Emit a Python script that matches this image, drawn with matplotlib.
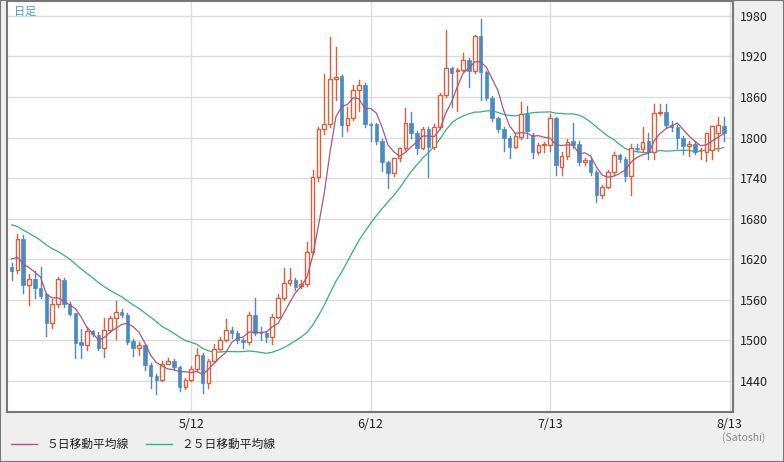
import matplotlib
matplotlib.use("Agg")
import matplotlib.pyplot as plt
import numpy as np
from matplotlib.lines import Line2D
from matplotlib.patches import Rectangle

plt.rcParams['font.family'] = ['Noto Sans CJK JP', 'DejaVu Sans']

# OHLC, 4/11 .. 8/13 (one candle per calendar day)
opens = [1608,1604,1650,1582,1591,1578,1569,1526,1554,1589,1554,1540,1498,1493,1514,1508,1489,1515,1533,1542,
         1538,1499,1489,1493,1464,1447,1442,1465,1470,1461,1431,1442,1458,1479,1437,1470,1487,1501,1515,1511,
         1501,1497,1538,1512,1511,1505,1535,1563,1585,1589,1580,1583,1631,1742,1813,1820,1887,1891,1819,1829,
         1870,1878,1820,1820,1795,1764,1748,1770,1785,1822,1806,1785,1813,1786,1816,1863,1903,1899,1900,1915,
         1899,1950,1897,1859,1829,1813,1800,1786,1801,1835,1804,1779,1789,1789,1829,1757,1773,1795,1791,1764,
         1767,1749,1715,1727,1749,1774,1768,1743,1785,1783,1795,1779,1836,1838,1819,1815,1800,1788,1791,1781,
         1779,1782,1806,1817,1819]
closes = [1603,1650,1582,1591,1578,1566,1525,1554,1591,1554,1539,1496,1493,1514,1510,1489,1515,1533,1542,1538,
          1498,1489,1493,1464,1447,1442,1465,1470,1460,1431,1442,1458,1479,1437,1470,1487,1501,1515,1511,1501,
          1497,1538,1511,1511,1505,1535,1563,1585,1589,1579,1583,1631,1742,1813,1820,1887,1890,1819,1829,1870,
          1878,1820,1818,1795,1764,1748,1770,1785,1822,1806,1785,1813,1786,1816,1863,1903,1896,1900,1915,1899,
          1950,1897,1859,1829,1813,1800,1786,1802,1835,1809,1779,1789,1790,1829,1760,1773,1794,1789,1764,1767,
          1749,1715,1727,1749,1774,1768,1743,1785,1783,1794,1779,1836,1838,1818,1815,1800,1788,1791,1779,1782,
          1806,1817,1818,1806]
highs = [1615,1657,1656,1598,1603,1608,1570,1561,1593,1592,1556,1541,1517,1520,1516,1512,1533,1536,1558,1546,
         1540,1502,1498,1495,1466,1450,1470,1474,1472,1462,1444,1462,1489,1481,1473,1495,1505,1532,1520,1514,
         1503,1542,1563,1520,1514,1539,1568,1607,1607,1592,1590,1646,1752,1815,1894,1949,1934,1893,1845,1878,
         1885,1880,1822,1822,1798,1766,1752,1774,1844,1838,1810,1816,1816,1820,1866,1959,1904,1903,1925,1918,
         1952,1976,1899,1862,1831,1816,1803,1806,1852,1847,1806,1792,1794,1835,1831,1778,1798,1822,1795,1770,
         1770,1752,1730,1752,1779,1776,1771,1790,1790,1815,1806,1850,1850,1850,1824,1818,1802,1795,1795,1784,
         1785,1811,1830,1830,1822]
lows = [1590,1600,1570,1552,1563,1562,1507,1518,1550,1550,1537,1474,1474,1485,1507,1486,1476,1513,1502,1535,
        1495,1477,1479,1456,1430,1420,1440,1466,1456,1425,1428,1440,1455,1422,1430,1468,1485,1499,1503,1496,
        1488,1495,1508,1500,1497,1495,1533,1560,1582,1575,1577,1580,1628,1735,1805,1815,1855,1803,1810,1826,
        1840,1815,1795,1790,1750,1725,1743,1766,1782,1800,1775,1783,1742,1783,1813,1860,1845,1840,1898,1875,
        1896,1856,1855,1825,1808,1780,1770,1784,1798,1800,1770,1776,1778,1780,1745,1745,1769,1784,1760,1760,
        1745,1705,1710,1725,1745,1764,1735,1715,1780,1780,1768,1768,1834,1815,1810,1785,1775,1772,1775,1768,
        1766,1768,1780,1795,1800]
# closes before the first visible candle (needed for the moving averages)
prior_closes = [1712,1715,1708,1700,1705,1698,1690,1694,1688,1680,1684,1678,1672,1676,1670,1665,1668,1660,
                1655,1650,1640,1628,1620,1612]
date_labels = ['5/12', '6/12', '7/13', '8/13']
date_index = [31, 62, 93, 124]
yticks = [1440, 1500, 1560, 1620, 1680, 1740, 1800, 1860, 1920, 1980]

up_c = '#d9603b'
dn_c = '#4a8bc2'
ma5_c = '#a8577e'
ma25_c = '#33b27b'
border = '#777777'

fig = plt.figure(figsize=(7.84, 4.62), dpi=100, facecolor='#efefef')
fig.add_artist(Rectangle((0, 0), 1, 1, transform=fig.transFigure, facecolor='none',
                         edgecolor=border, lw=1.5))
ax = fig.add_axes([7/784, 1 - 412/462, 726/784, 411/462], facecolor='white')
n = len(closes)
x = np.arange(n)
allc = np.array(prior_closes + closes, dtype=float)
def ma(k):
    off = len(prior_closes)
    return np.array([allc[off+i-k+1:off+i+1].mean() for i in range(n)])

ax.plot(x, ma(25), color=ma25_c, lw=0.9, zorder=2)
ax.plot(x, ma(5), color=ma5_c, lw=0.9, zorder=4)
w = 0.62
for i in range(n):
    o, c, h, l = opens[i], closes[i], highs[i], lows[i]
    up = c >= o
    col = up_c if up else dn_c
    top, bot = max(o, c), min(o, c)
    ax.plot([i, i], [top, h], color=col, lw=1.0, zorder=3)
    ax.plot([i, i], [l, bot], color=col, lw=1.0, zorder=3)
    hgt = max(top - bot, 1.0)
    if up:
        ax.add_patch(Rectangle((i - w/2, bot), w, hgt, facecolor='white', edgecolor=col, lw=1.0, zorder=3))
    else:
        ax.add_patch(Rectangle((i - w/2, bot), w, hgt, facecolor=col, edgecolor=col, lw=0.5, zorder=3))

ax.set_xlim(-0.8, 124.6)
ax.set_ylim(1394, 2002)
ax.yaxis.tick_right()
ax.set_yticks(yticks)
ax.set_xticks(date_index)
ax.set_xticklabels(date_labels)
ax.tick_params(axis='both', length=0, labelsize=9, colors='#222222', pad=4)
ax.tick_params(axis='y', pad=5)
ax.grid(True, color='#dddddd', lw=1.0)
ax.set_axisbelow(True)
for s in ax.spines.values():
    s.set_color(border)
    s.set_linewidth(1.5)

ax.text(0.01, 0.985, '日足', transform=ax.transAxes, ha='left', va='top', fontsize=8, color='#4a9fd4')
fig.text(722/784, 1 - 438/462, '(Satoshi)', ha='left', va='center', fontsize=7.5, color='#888888')
handles = [Line2D([], [], color=ma5_c, lw=1), Line2D([], [], color=ma25_c, lw=1)]
fig.legend(handles, ['５日移動平均線', '２５日移動平均線'], loc='lower left', bbox_to_anchor=(0.0, 0.0),
           ncol=2, frameon=False, fontsize=8.5, handlelength=2.2, columnspacing=1.5, labelcolor='#222222')
fig.savefig('out.png', dpi=100, facecolor='#efefef')
